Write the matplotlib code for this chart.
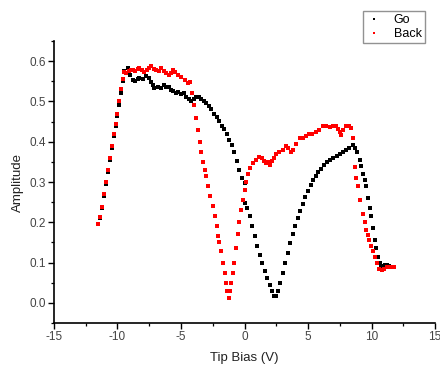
import matplotlib
matplotlib.use("Agg")
import matplotlib.pyplot as plt
from matplotlib.ticker import MultipleLocator

# Tip bias (V) and amplitude, forward sweep ("Go")
go_bias = [
    -11.5, -11.35, -11.2, -11.05, -10.9, -10.75, -10.6, -10.45, -10.3, -10.15,
    -10.0, -9.85, -9.7, -9.55, -9.45, -9.3, -9.19, -9.0, -8.8, -8.6,
    -8.4, -8.27, -8.0, -7.74, -7.55, -7.35, -7.2, -7.09, -6.8, -6.56,
    -6.35, -6.17, -5.95, -5.77, -5.6, -5.4, -5.2, -5.0, -4.8, -4.6,
    -4.4, -4.2, -4.0, -3.8, -3.6, -3.4, -3.2, -3.0, -2.8, -2.6,
    -2.4, -2.2, -2.0, -1.8, -1.6, -1.4, -1.2, -1.0, -0.8, -0.6,
    -0.4, -0.2, 0.0, 0.05, 0.2, 0.4, 0.6, 0.8, 1.0, 1.2,
    1.4, 1.6, 1.8, 2.0, 2.2, 2.36, 2.5, 2.65, 2.8, 3.0,
    3.2, 3.4, 3.6, 3.8, 4.0, 4.2, 4.4, 4.6, 4.8, 5.0,
    5.2, 5.4, 5.6, 5.8, 6.0, 6.25, 6.5, 6.75, 7.0, 7.25,
    7.5, 7.75, 8.0, 8.25, 8.53, 8.7, 8.85, 9.06, 9.2, 9.35,
    9.45, 9.58, 9.7, 9.85, 9.97, 10.1, 10.24, 10.37, 10.5, 10.63,
    10.76, 10.9, 11.05, 11.2, 11.35, 11.5, 11.65, 11.8,
]
go_amp = [
    0.196, 0.21, 0.235, 0.265, 0.295, 0.325, 0.355, 0.385, 0.415, 0.44,
    0.465, 0.49, 0.52, 0.55, 0.575, 0.57, 0.582, 0.565, 0.553, 0.55,
    0.555, 0.558, 0.556, 0.562, 0.558, 0.549, 0.54, 0.533, 0.535, 0.533,
    0.54, 0.537, 0.535, 0.529, 0.527, 0.52, 0.523, 0.518, 0.52, 0.512,
    0.505, 0.5, 0.505, 0.512, 0.51, 0.505, 0.5, 0.495, 0.488, 0.48,
    0.47, 0.462, 0.452, 0.44, 0.432, 0.42, 0.405, 0.392, 0.375, 0.352,
    0.33, 0.31, 0.298, 0.248, 0.235, 0.215, 0.19, 0.165, 0.14, 0.118,
    0.098, 0.08, 0.062, 0.045, 0.03, 0.017, 0.018, 0.03, 0.05, 0.075,
    0.1, 0.125, 0.148, 0.17, 0.19, 0.21, 0.228, 0.245, 0.262, 0.278,
    0.292, 0.305, 0.315, 0.325, 0.333, 0.342, 0.35, 0.355, 0.36, 0.365,
    0.37, 0.375, 0.38, 0.385, 0.392, 0.385, 0.375, 0.355, 0.34, 0.32,
    0.305, 0.29, 0.26, 0.235, 0.215, 0.185, 0.157, 0.135, 0.115, 0.1,
    0.09, 0.092, 0.095, 0.095, 0.092, 0.09, 0.09, 0.09,
]

# Reverse sweep ("Back")
back_bias = [
    -11.5, -11.35, -11.2, -11.05, -10.9, -10.75, -10.6, -10.45, -10.3, -10.15,
    -10.0, -9.85, -9.7, -9.55, -9.45, -9.3, -9.1, -8.95, -8.8, -8.6,
    -8.4, -8.27, -8.1, -7.9, -7.7, -7.5, -7.35, -7.15, -6.96, -6.75,
    -6.56, -6.35, -6.17, -5.95, -5.8, -5.64, -5.45, -5.25, -5.0, -4.72,
    -4.46, -4.3, -4.12, -3.95, -3.8, -3.65, -3.54, -3.4, -3.25, -3.1,
    -3.0, -2.85, -2.7, -2.5, -2.35, -2.2, -2.05, -1.97, -1.85, -1.7,
    -1.57, -1.45, -1.35, -1.26, -1.15, -1.05, -0.92, -0.8, -0.65, -0.52,
    -0.4, -0.25, -0.13, 0.0, 0.13, 0.26, 0.45, 0.66, 0.9, 1.18,
    1.4, 1.55, 1.7, 1.85, 1.97, 2.15, 2.3, 2.5, 2.75, 3.0,
    3.28, 3.45, 3.67, 3.85, 4.05, 4.33, 4.6, 4.85, 5.1, 5.35,
    5.6, 5.9, 6.17, 6.45, 6.7, 6.96, 7.2, 7.35, 7.48, 7.6,
    7.75, 8.0, 8.2, 8.4, 8.55, 8.66, 8.8, 8.92, 9.1, 9.3,
    9.45, 9.6, 9.72, 9.84, 9.98, 10.1, 10.24, 10.4, 10.6, 10.8,
    11.0, 11.2, 11.4, 11.6, 11.8,
]
back_amp = [
    0.196, 0.212, 0.238, 0.27, 0.3, 0.33, 0.36, 0.39, 0.42, 0.445,
    0.47, 0.5, 0.53, 0.555, 0.574, 0.57, 0.575, 0.578, 0.578, 0.575,
    0.58, 0.583, 0.578, 0.574, 0.578, 0.583, 0.587, 0.58, 0.578, 0.575,
    0.583, 0.575, 0.57, 0.565, 0.57, 0.578, 0.572, 0.566, 0.56, 0.553,
    0.545, 0.548, 0.52, 0.49, 0.46, 0.43, 0.4, 0.375, 0.35, 0.33,
    0.315, 0.29, 0.265, 0.24, 0.215, 0.19, 0.165, 0.15, 0.13, 0.1,
    0.074, 0.05, 0.03, 0.012, 0.03, 0.05, 0.074, 0.1, 0.135, 0.17,
    0.2, 0.23, 0.256, 0.28, 0.3, 0.32, 0.335, 0.347, 0.355, 0.363,
    0.36, 0.352, 0.347, 0.35, 0.342, 0.352, 0.36, 0.37, 0.375, 0.38,
    0.39, 0.385, 0.375, 0.38, 0.395, 0.41, 0.41, 0.415, 0.42, 0.42,
    0.425, 0.43, 0.44, 0.438, 0.437, 0.44, 0.438, 0.432, 0.425, 0.417,
    0.43, 0.44, 0.438, 0.433, 0.41, 0.338, 0.31, 0.29, 0.255, 0.22,
    0.2, 0.18, 0.168, 0.157, 0.14, 0.128, 0.115, 0.1, 0.083, 0.082,
    0.085, 0.088, 0.09, 0.09, 0.088,
]

plt.rcParams["font.family"] = ["Liberation Sans", "DejaVu Sans"]

fig = plt.figure(figsize=(4.4, 3.65), dpi=100)
ax = fig.add_axes([0.1227, 0.115, 0.866, 0.7727])

ax.plot(go_bias, go_amp, ls="none", marker="s", ms=2.5, mew=0, color="black", label="Go")
ax.plot(back_bias, back_amp, ls="none", marker="s", ms=2.5, mew=0, color="#ff0000", label="Back")

ax.set_xlim(-15, 15)
ax.set_ylim(-0.05, 0.65)
ax.xaxis.set_major_locator(MultipleLocator(5))
ax.xaxis.set_minor_locator(MultipleLocator(2.5))
ax.yaxis.set_major_locator(MultipleLocator(0.1))
ax.yaxis.set_minor_locator(MultipleLocator(0.05))
ax.yaxis.set_major_formatter(lambda v, p: f"{v:.1f}")
ax.xaxis.set_major_formatter(lambda v, p: f"{v:g}")

ax.spines[["top", "right"]].set_visible(False)
for s in ("left", "bottom"):
    ax.spines[s].set_linewidth(1.2)
ax.tick_params(which="major", direction="out", length=4, width=1, labelsize=8.5, labelcolor="#444444", pad=2)
ax.tick_params(which="minor", direction="out", length=2.5, width=0.9)

ax.set_xlabel("Tip Bias (V)", fontsize=9.5, color="#222222", labelpad=6)
ax.set_ylabel("Amplitude", fontsize=9.5, color="#222222", labelpad=4)

leg = fig.legend(loc="upper left", bbox_to_anchor=(363 / 440, 1 - 11 / 365), fontsize=9,
                 frameon=True, fancybox=False, edgecolor="#777777", markerscale=0.7,
                 handlelength=1.2, handletextpad=1.0, borderpad=0.25, labelspacing=0.15,
                 borderaxespad=0)
leg.get_frame().set_linewidth(1.0)

fig.savefig("out.png", dpi=100)
